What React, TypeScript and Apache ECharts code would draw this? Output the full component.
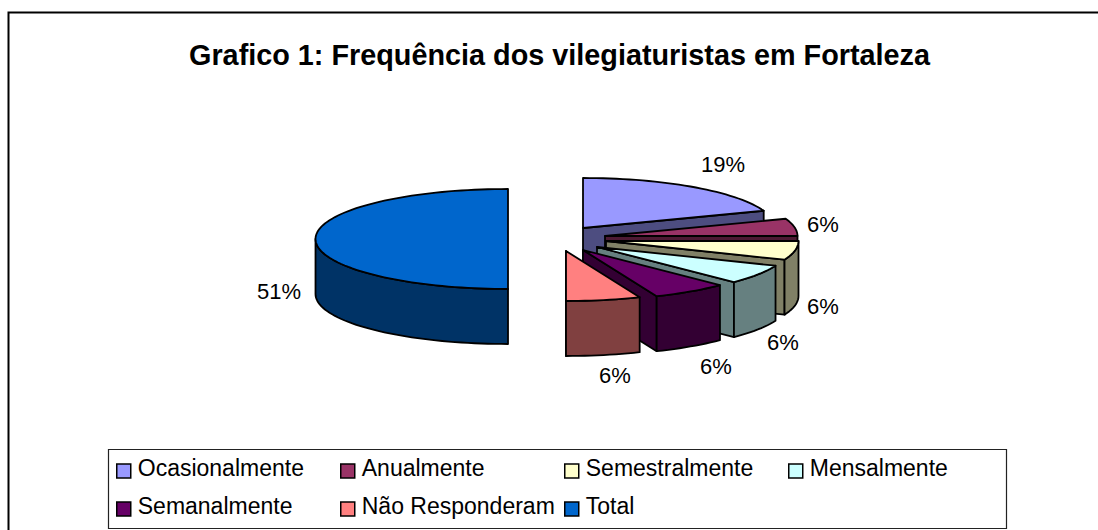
import React, { useEffect, useRef } from "react";
import * as echarts from "echarts";

const titleText = "Grafico 1: Frequência dos vilegiaturistas em Fortaleza";
const categories = ["Ocasionalmente", "Anualmente", "Semestralmente", "Mensalmente", "Semanalmente", "Não Responderam", "Total"];
const shares = [19.4, 5.6, 6.1, 6.3, 6.35, 6.25, 50];
const percentLabels = ["19%", "6%", "6%", "6%", "6%", "6%", "51%"];

const topColors = ["#9999FF", "#993366", "#FFFFCC", "#CCFFFF", "#660066", "#FF8080", "#0066CC"];
const sideColors = ["#4D4D80", "#4D1A33", "#808066", "#668080", "#330033", "#804040", "#003366"];
const sliceCentres = [[583, 228], [605, 236], [606, 241], [597, 247], [583, 250], [566, 251], [508, 239]];
const labelCentres = [[723, 164], [823, 224], [823, 306], [783, 342], [716, 366], [615, 375], [279, 291]];
const RX = 192.5;
const RY = 50;
const DEPTH = 55;
const FONT = '"Liberation Sans", Arial, sans-serif';

const starts = shares.map((_, i) => shares.slice(0, i).reduce((a, b) => a + b, 0));

function makeRenderItem(i: number) {
  return (_params: any, api: any) => {
    const a0 = (api.value(1) / 100) * Math.PI * 2;
    const a1 = ((api.value(1) + api.value(0)) / 100) * Math.PI * 2;
    const [cx, cy] = sliceCentres[i];
    const pt = (a: number, d = 0) => [cx + RX * Math.sin(a), cy - RY * Math.cos(a) + d];
    const arc = (from: number, to: number, d = 0) => {
      const n = Math.max(2, Math.ceil(((to - from) * 180) / Math.PI / 2));
      const out: number[][] = [];
      for (let k = 0; k <= n; k++) out.push(pt(from + ((to - from) * k) / n, d));
      return out;
    };
    const edge = { stroke: "#000", lineWidth: 1.8, lineJoin: "round" };
    const children: any[] = [];
    if (a1 <= Math.PI) {
      children.push({
        type: "polygon",
        shape: { points: [[cx, cy], pt(a1), pt(a1, DEPTH), [cx, cy + DEPTH]] },
        style: { fill: sideColors[i], ...edge },
      });
    }
    const r0 = Math.max(a0, Math.PI / 2);
    const r1 = Math.min(a1, (Math.PI * 3) / 2);
    if (r1 > r0) {
      children.push({
        type: "polygon",
        shape: { points: [...arc(r0, r1), ...arc(r0, r1, DEPTH).reverse()] },
        style: { fill: sideColors[i], ...edge },
      });
    }
    children.push({
      type: "polygon",
      shape: { points: [[cx, cy], ...arc(a0, a1)] },
      style: { fill: topColors[i], ...edge },
    });
    children.push({
      type: "text",
      x: labelCentres[i][0],
      y: labelCentres[i][1],
      style: { text: percentLabels[i], fontFamily: FONT, fontSize: 22, fill: "#000", align: "center", verticalAlign: "middle" },
    });
    return { type: "group", children };
  };
}

const legendColumns = [[0, 4], [1, 5], [2, 6], [3]];
const legendLefts = [117, 341, 565, 789];
const LOWERED_SQUARE = "path://M0,0 h0 M0,6 h14 v14 h-14 z";

export default function App() {
  const ref = useRef<HTMLDivElement>(null);
  useEffect(() => {
    const chart = echarts.init(ref.current!, undefined, { renderer: "svg" });
    chart.setOption({
      animation: false,
      backgroundColor: "#fff",
      title: {
        text: titleText,
        left: 554.5,
        top: 35,
        textAlign: "center",
        textStyle: { fontFamily: FONT, fontWeight: "bold", fontSize: 28.8, color: "#000" },
      },
      legend: legendColumns.map((col, c) => ({
        orient: "vertical",
        left: legendLefts[c] - 1,
        top: 456.5,
        padding: 0,
        itemWidth: 14,
        itemHeight: 20,
        itemGap: 15,
        selectedMode: false,
        icon: LOWERED_SQUARE,
        itemStyle: { borderColor: "#000", borderWidth: 1.5 },
        textStyle: { fontFamily: FONT, fontSize: 23, color: "#000", padding: [0, 0, 0, 2] },
        data: col.map((k) => categories[k]),
      })),
      graphic: [
        { type: "polyline", silent: true, shape: { points: [[8.5, 530], [8.5, 12.5], [1098, 12.5]] }, style: { fill: "none", stroke: "#000", lineWidth: 2 } },
        { type: "rect", silent: true, shape: { x: 108.5, y: 449.5, width: 898, height: 79 }, style: { fill: "none", stroke: "#222", lineWidth: 1.2 } },
      ],
      series: categories.map((name, i) => ({
        type: "custom",
        name,
        coordinateSystem: "none",
        silent: true,
        itemStyle: { color: topColors[i] },
        renderItem: makeRenderItem(i),
        data: [[shares[i], starts[i]]],
      })),
    });
    return () => chart.dispose();
  }, []);
  return <div ref={ref} style={{ position: "absolute", left: 0, top: 0, width: 1098, height: 530 }} />;
}
